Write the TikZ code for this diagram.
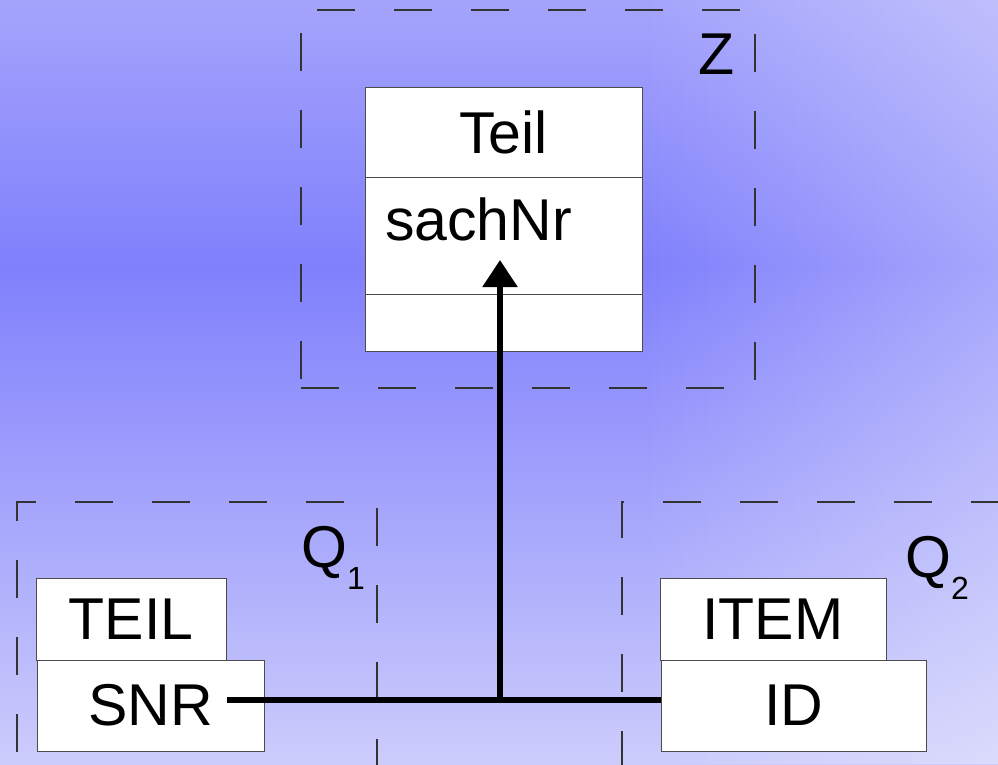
\documentclass[tikz,border=0pt]{standalone}
\usepackage{fontspec}
\setmainfont{Liberation Sans}
\usetikzlibrary{arrows.meta,calc,positioning,fadings}

\definecolor{bgtop}{RGB}{164,164,252}
\definecolor{bgmid}{RGB}{128,128,252}
\definecolor{bgbot}{RGB}{204,204,252}
\newcommand{\lowidx}[1]{{\fontsize{32}{34}\selectfont\raisebox{-22pt}{#1}}}

\begin{document}
\begin{tikzpicture}[
  x=1pt, y=-1pt,
  font=\fontsize{59}{70}\selectfont,
  >=Triangle,
  frame/.style   ={draw=black!80,line width=1.2pt,dash pattern=on 38pt off 39pt,
                   inner sep=0pt,outer sep=0pt},
  part/.style    ={draw=black!70,fill=white,line width=1pt,
                   inner sep=0pt,outer sep=0pt},
  link/.style    ={line width=5.5pt,black},
  tag/.style     ={inner sep=0pt},
]

%% ============================================================
%%  Canvas and background
%% ============================================================
\useasboundingbox (0,0) rectangle (998,764);
\clip (0,0) rectangle (998,764);
\shade[top color=bgtop,bottom color=bgmid] (0,0) rectangle (998,265);
\shade[top color=bgmid,bottom color=bgbot] (0,265) rectangle (998,764);
\fill[white,path fading=west,fill opacity=0.3] (640,0) rectangle (998,764);

%% ============================================================
%%  Target schema Z
%% ============================================================
\node[frame,minimum width=454pt,minimum height=378pt] (zframe) at (528,199) {};
\node[tag,anchor=base east] (zlabel) at (735,74) {Z};

\node[part,minimum width=277pt,minimum height=90pt] (teilname) at (503.5,132) {Teil};
\node[part,below=0pt of teilname,text width=237pt,align=left,inner xsep=20pt,
      text height=63pt,text depth=54pt] (teilattr) {sachNr};
\node[part,below=0pt of teilattr,minimum width=277pt,minimum height=57pt] (teilops) {};

%% ============================================================
%%  Source schema Q1
%% ============================================================
\node[frame,anchor=north west,minimum width=360pt,minimum height=300pt]
      (qoneframe) at (17,502) {};
\node[tag,anchor=base west] (qonelabel) at (301,567) {Q\lowidx{1}};

\node[part,minimum width=190pt,minimum height=82pt] (teil) at (131,619) {TEIL};
\node[part,below right=0pt and 1pt of teil.south west,
      minimum width=227pt,minimum height=91pt] (snr) {SNR};

%% ============================================================
%%  Source schema Q2
%% ============================================================
\node[frame,anchor=north west,minimum width=390pt,minimum height=300pt]
      (qtwoframe) at (622,502) {};
\node[tag,anchor=base west] (qtwolabel) at (905,577) {Q\lowidx{2}};

\node[part,minimum width=226pt,minimum height=82pt] (item) at (773,619) {ITEM};
\node[part,below right=0pt and 1pt of item.south west,
      minimum width=265pt,minimum height=91pt] (id) {ID};

%% ============================================================
%%  Correspondence SNR -- ID -> sachNr
%% ============================================================
\coordinate (snrend) at (227,700);
\coordinate (join)   at (500,700);
\coordinate (tip)    at (500,260);

\draw[link] (snrend) -- (id.west |- snrend);
\draw[link,-{Triangle[length=27pt,width=34pt]}] (join) -- (tip);

\end{tikzpicture}
\end{document}
